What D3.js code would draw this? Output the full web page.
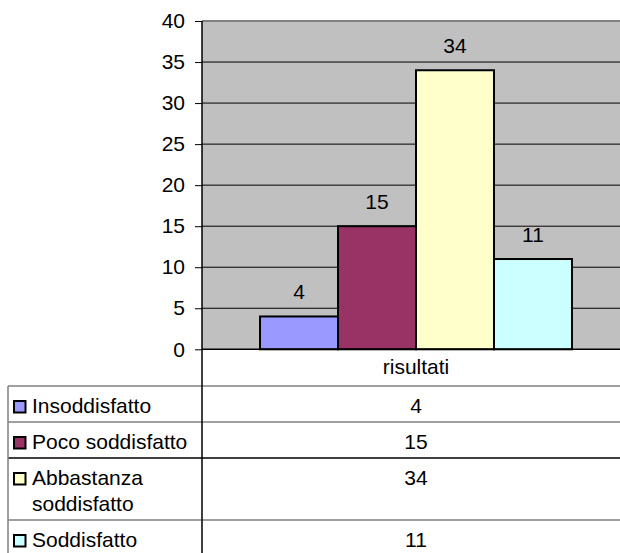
<!DOCTYPE html>
<html>
<head>
<meta charset="utf-8">
<script src="https://cdn.jsdelivr.net/npm/d3@7"></script>
<style>
  body { margin: 0; background: #fff; }
  svg { display: block; font-family: "Liberation Sans", Arial, sans-serif; }
</style>
</head>
<body>
<div id="viz"></div>
<script>
const category = "risultati";
const seriesNames = ["Insoddisfatto", "Poco soddisfatto", "Abbastanza soddisfatto", "Soddisfatto"];
const seriesLines = [["Insoddisfatto"], ["Poco soddisfatto"], ["Abbastanza", "soddisfatto"], ["Soddisfatto"]];
const values = [4, 15, 34, 11];
const colors = ["#9999FF", "#993366", "#FFFFCC", "#CCFFFF"];
const yTicks = [0, 5, 10, 15, 20, 25, 30, 35, 40];

const width = 620;
const height = 553;
const fontSize = 21;

const svg = d3.select("#viz").append("svg")
    .attr("width", width)
    .attr("height", height);

const plotLeft = 202, plotRight = 630, plotTop = 21, plotBottom = 349.3;

const y = d3.scaleLinear().domain([0, 40]).range([plotBottom, plotTop]);

const xCat = d3.scaleBand()
    .domain([category])
    .range([plotLeft, plotRight])
    .paddingOuter(0.186)
    .paddingInner(0);

const xSeries = d3.scaleBand()
    .domain(seriesNames)
    .range([0, xCat.bandwidth()]);

// plot background
svg.append("rect")
    .attr("x", plotLeft).attr("y", plotTop)
    .attr("width", plotRight - plotLeft).attr("height", plotBottom - plotTop)
    .attr("fill", "#C0C0C0");

// gridlines
svg.append("g")
    .selectAll("line")
    .data(yTicks.filter(d => d > 0 && d < 40))
    .enter().append("line")
    .attr("x1", plotLeft).attr("x2", plotRight)
    .attr("y1", d => y(d)).attr("y2", d => y(d))
    .attr("stroke", "#000").attr("stroke-width", 1);

// top border
svg.append("line")
    .attr("x1", plotLeft).attr("x2", plotRight)
    .attr("y1", plotTop).attr("y2", plotTop)
    .attr("stroke", "#808080").attr("stroke-width", 2);

// bars
const bars = svg.append("g")
    .attr("transform", `translate(${xCat(category)},0)`);

bars.selectAll("rect")
    .data(values)
    .enter().append("rect")
    .attr("x", (d, i) => xSeries(seriesNames[i]))
    .attr("y", d => y(d))
    .attr("width", xSeries.bandwidth())
    .attr("height", d => y(0) - y(d))
    .attr("fill", (d, i) => colors[i])
    .attr("stroke", "#000")
    .attr("stroke-width", 2);

bars.selectAll("text")
    .data(values)
    .enter().append("text")
    .attr("x", (d, i) => xSeries(seriesNames[i]) + xSeries.bandwidth() / 2)
    .attr("y", d => y(d) - 17.5)
    .attr("text-anchor", "middle")
    .attr("font-size", fontSize)
    .attr("fill", "#000")
    .text(d => d);

// y axis
const yAxis = d3.axisLeft(y).tickValues(yTicks).tickSize(7).tickPadding(10);
const yg = svg.append("g")
    .attr("transform", `translate(${plotLeft},0)`)
    .call(yAxis);
yg.select(".domain").remove();
yg.selectAll(".tick line").attr("stroke", "#000");
yg.selectAll(".tick text")
    .attr("font-size", fontSize)
    .attr("font-family", "Liberation Sans, Arial, sans-serif")
    .attr("fill", "#000");

// zero line
svg.append("line")
    .attr("x1", plotLeft).attr("x2", plotRight)
    .attr("y1", y(0)).attr("y2", y(0))
    .attr("stroke", "#000").attr("stroke-width", 1.5);

// data table
const tableLeft = 8;
const headerBottom = 386;
const lineH = 26;

svg.append("text")
    .attr("x", xCat(category) + xCat.bandwidth() / 2)
    .attr("y", 374)
    .attr("text-anchor", "middle")
    .attr("font-size", fontSize)
    .text(category);

let rowTops = [];
let acc = headerBottom;
seriesLines.forEach(lines => {
    rowTops.push(acc);
    acc += 10 + lines.length * lineH;
});

const table = svg.append("g");

table.selectAll("line.row")
    .data(rowTops)
    .enter().append("line")
    .attr("class", "row")
    .attr("x1", tableLeft).attr("x2", width)
    .attr("y1", d => d).attr("y2", d => d)
    .attr("stroke", (d, i) => i === 2 ? "#000" : "#808080")
    .attr("stroke-width", 1.5);

table.append("line")
    .attr("x1", tableLeft).attr("x2", tableLeft)
    .attr("y1", headerBottom).attr("y2", height)
    .attr("stroke", "#808080").attr("stroke-width", 1.5);

const rows = table.selectAll("g.trow")
    .data(seriesLines)
    .enter().append("g")
    .attr("class", "trow")
    .attr("transform", (d, i) => `translate(0,${rowTops[i]})`);

rows.append("rect")
    .attr("x", 14).attr("y", 15)
    .attr("width", 11.5).attr("height", 11.5)
    .attr("fill", (d, i) => colors[i])
    .attr("stroke", "#000")
    .attr("stroke-width", 2);

rows.append("text")
    .attr("font-size", fontSize)
    .selectAll("tspan")
    .data(d => d)
    .enter().append("tspan")
    .attr("x", 32)
    .attr("y", (d, i) => 27 + i * lineH)
    .text(d => d);

rows.append("text")
    .attr("x", xCat(category) + xCat.bandwidth() / 2)
    .attr("y", 27)
    .attr("text-anchor", "middle")
    .attr("font-size", fontSize)
    .text((d, i) => values[i]);

// y axis line through plot and table
svg.append("line")
    .attr("x1", plotLeft).attr("x2", plotLeft)
    .attr("y1", plotTop).attr("y2", height)
    .attr("stroke", "#000").attr("stroke-width", 1.5);
</script>
</body>
</html>
